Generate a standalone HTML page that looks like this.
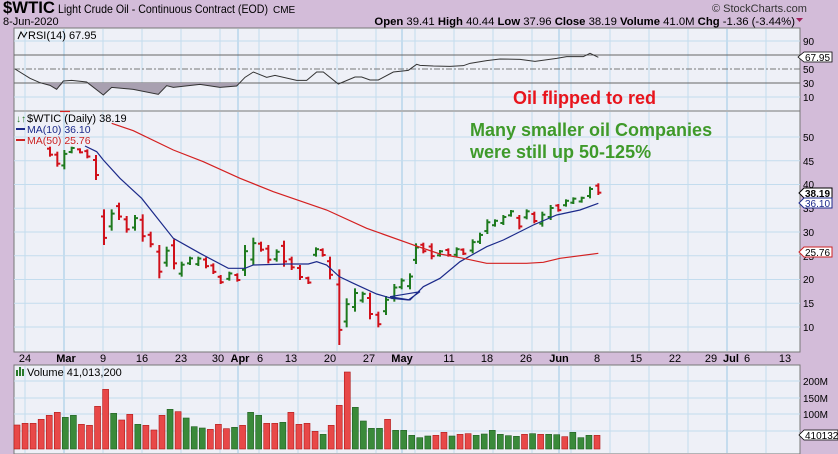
<!DOCTYPE html>
<html><head><meta charset="utf-8"><style>
html,body{margin:0;padding:0;background:#d3bcd9;}
svg{display:block;font-family:"Liberation Sans",sans-serif;}
</style></head><body>
<svg id="s" width="838" height="454" viewBox="0 0 838 454" xmlns="http://www.w3.org/2000/svg">
<rect width="838" height="454" fill="#d3bcd9"/>
<rect x="14" y="28" width="786" height="83" fill="#eef0f7" stroke="#777" stroke-width="1"/>
<rect x="14" y="111" width="786" height="241" fill="#eef0f7" stroke="#777" stroke-width="1"/>
<rect x="14" y="365" width="786" height="89" fill="#eef0f7" stroke="#777" stroke-width="1"/>
<g id="grid"></g>
<g id="rsi"></g>
<g id="price"></g>
<g id="vol"></g>
<text x="3" y="13" font-size="17" font-weight="bold" fill="#000" textLength="52" lengthAdjust="spacingAndGlyphs">$WTIC</text>
<text x="58" y="13" font-size="12" fill="#000" textLength="210" lengthAdjust="spacingAndGlyphs">Light Crude Oil - Continuous Contract (EOD)</text>
<text x="273" y="13" font-size="10" fill="#000">CME</text>
<text x="3" y="25" font-size="11" fill="#000">8-Jun-2020</text>
<text x="712" y="12" font-size="11" fill="#333">© StockCharts.com</text>
<text x="795" y="25" font-size="11.3" text-anchor="end" fill="#000"><tspan font-weight="bold">Open</tspan> 39.41  <tspan font-weight="bold">High</tspan> 40.44  <tspan font-weight="bold">Low</tspan> 37.96  <tspan font-weight="bold">Close</tspan> 38.19  <tspan font-weight="bold">Volume</tspan> 41.0M  <tspan font-weight="bold">Chg</tspan> -1.36 (-3.44%)</text>
<polygon points="796,18 803,18 799.5,22" fill="#a0205a"/>
<text x="28" y="39" font-size="11" fill="#000">RSI(14) 67.95</text>
<polyline points="18,39 21,32 24,37 27,32" fill="none" stroke="#000" stroke-width="1"/>
<g font-size="10" fill="#000">
<text x="803" y="45">90</text><text x="803" y="73">50</text><text x="803" y="87">30</text><text x="803" y="101">10</text>
</g>
<polygon points="798,57 804,52 832,52 832,62 804,62" fill="#fff" stroke="#000" stroke-width="0.8"/>
<text x="805" y="61" font-size="10" fill="#000">67.95</text>
<text x="27" y="122" font-size="11" fill="#000">$WTIC (Daily) 38.19</text>
<text x="16" y="122" font-size="10" fill="#2a7a2a">↓↑</text>
<line x1="16" y1="129" x2="25" y2="129" stroke="#1c2a8a" stroke-width="2"/>
<text x="27" y="133" font-size="10.5" fill="#1c2a8a">MA(10) 36.10</text>
<line x1="16" y1="140" x2="25" y2="140" stroke="#cc2222" stroke-width="2"/>
<text x="27" y="144" font-size="10.5" fill="#cc2222">MA(50) 25.76</text>
<g font-size="10" fill="#000">
<text x="803" y="141">50</text><text x="803" y="165">45</text><text x="803" y="188">40</text><text x="803" y="212">35</text><text x="803" y="236">30</text><text x="803" y="260">25</text><text x="803" y="283">20</text><text x="803" y="307">15</text><text x="803" y="331">10</text>
</g>
<polygon points="799,193 804,188 832,188 832,198 804,198" fill="#fff" stroke="#000" stroke-width="1"/>
<text x="805" y="197" font-size="10" font-weight="bold" fill="#000">38.19</text>
<polygon points="799,203 804,198 832,198 832,208 804,208" fill="#fff" stroke="#1c2a8a" stroke-width="1"/>
<text x="805" y="207" font-size="10" fill="#1c2a8a">36.10</text>
<polygon points="799,252 804,247 832,247 832,257 804,257" fill="#fff" stroke="#cc2222" stroke-width="1"/>
<text x="805" y="256" font-size="10" fill="#000">25.76</text>
<text x="513" y="104" font-size="18" font-weight="bold" fill="#e8141c">Oil flipped to red</text>
<text x="470" y="136" font-size="18" font-weight="bold" fill="#3f9a2a">Many smaller oil Companies</text>
<text x="470" y="158" font-size="18" font-weight="bold" fill="#3f9a2a">were still up 50-125%</text>
<g font-size="11" fill="#000" text-anchor="middle">
<text x="25" y="362">24</text><text x="66" y="362" font-weight="bold">Mar</text><text x="103" y="362">9</text><text x="142" y="362">16</text><text x="181" y="362">23</text><text x="218" y="362">30</text><text x="240" y="362" font-weight="bold">Apr</text><text x="260" y="362">6</text><text x="291" y="362">13</text><text x="330" y="362">20</text><text x="369" y="362">27</text><text x="402" y="362" font-weight="bold">May</text><text x="449" y="362">11</text><text x="487" y="362">18</text><text x="526" y="362">26</text><text x="559" y="362" font-weight="bold">Jun</text><text x="597" y="362">8</text><text x="636" y="362">15</text><text x="675" y="362">22</text><text x="711" y="362">29</text><text x="731" y="362" font-weight="bold">Jul</text><text x="747" y="362">6</text><text x="785" y="362">13</text>
</g>
<text x="27" y="376" font-size="11" fill="#000">Volume 41,013,200</text>
<rect x="16" y="370" width="2" height="6" fill="#2a7a2a"/><rect x="19" y="367" width="2" height="9" fill="#2a7a2a"/><rect x="22" y="369" width="2" height="7" fill="#2a7a2a"/>
<g font-size="10" fill="#000">
<text x="803" y="385">200M</text><text x="803" y="402">150M</text><text x="803" y="418">100M</text>
</g>
<polygon points="799,435 804,430 838,430 838,440 804,440" fill="#fff" stroke="#000" stroke-width="0.8"/>
<text x="805" y="439" font-size="10" fill="#000">410132</text>
</svg>
<script>
var NS="http://www.w3.org/2000/svg";
function el(g,t,a){var e=document.createElementNS(NS,t);for(var k in a)e.setAttribute(k,a[k]);document.getElementById(g).appendChild(e);return e;}
var weeks=[25,64,103,142,181,220,259,298,337,376,415,454,493,532,571,610,649,688,727,766];
weeks.forEach(function(x){[[29,110],[112,351],[366,453]].forEach(function(r){el("grid","line",{x1:x,y1:r[0],x2:x,y2:r[1],stroke:"#c3dcee","stroke-width":1});});});
[64,238,402,559,727].forEach(function(x){[[29,110],[112,351],[366,453]].forEach(function(r){el("grid","line",{x1:x,y1:r[0],x2:x,y2:r[1],stroke:"#9cc8e6","stroke-width":1});});});
for(var p=10;p<=50;p+=5){var y=137+(50-p)*4.75;el("grid","line",{x1:14,y1:y,x2:800,y2:y,stroke:"#c3dcee"});}
[381,398,414,431].forEach(function(y){el("grid","line",{x1:14,y1:y,x2:800,y2:y,stroke:"#c3dcee"});});
[41,97].forEach(function(y){el("grid","line",{x1:14,y1:y,x2:800,y2:y,stroke:"#c3dcee"});});
el("grid","line",{x1:14,y1:55,x2:800,y2:55,stroke:"#666"});
el("grid","line",{x1:14,y1:83,x2:800,y2:83,stroke:"#666"});
el("grid","line",{x1:14,y1:69,x2:800,y2:69,stroke:"#777","stroke-dasharray":"6,2,2,2"});
var r1=[[45,207],[90,235],[120,248],[150,256],[170,268],[190,243],[215,241],[260,246],[310,285],[335,262],[400,268],[475,283],[500,257],[520,262],[600,253],[660,262],[710,258],[735,232],[760,216],[800,232],[825,226],[890,241],[920,241],[950,216],[970,216],[1015,252],[1065,231],[1085,231],[1110,240],[1135,240],[1180,216],[1225,211],[1250,193],[1260,196]];
var r2=[[40,198],[90,199],[130,197],[150,190],[200,182],[240,177],[300,178],[345,184],[410,175],[440,170],[490,170],[510,160],[535,172]];
var pts=r1.map(function(p){return [p[0]/3,p[1]/3];}).concat(r2.map(function(p){return [420+p[0]/3,p[1]/3];}));
var sh=[[14,83]];pts.forEach(function(p){if(p[0]<=240)sh.push([p[0],Math.max(p[1],83)]);});sh.push([240,83]);
el("rsi","polygon",{points:sh.map(function(p){return p.join(",");}).join(" "),fill:"#a8a0b0"});
el("rsi","polyline",{points:pts.map(function(p){return p.join(",");}).join(" "),fill:"none",stroke:"#333","stroke-width":1});
var b4=[[150,110,140,"r"],[172,125,170,"r"],[193,120,178,"g"],[215,110,130,"g"],[240,115,130,"r"],[262,118,145,"r"],[288,135,210,"r"],[312,298,405,"r"],[335,298,362,"g"],[357,278,330,"r"],[380,318,368,"r"],[405,315,362,"g"],[428,313,395,"r"],[452,365,412,"r"],[478,405,505,"r"],[500,410,470,"g"],[522,388,478,"r"],[545,455,500,"g"],[570,440,465,"g"],[595,440,468,"g"],[618,442,475,"r"],[640,460,492,"r"],[662,495,522,"r"],[688,485,512,"g"],[712,490,515,"r"],[735,405,498,"g"],[760,383,465,"g"],[783,395,425,"r"],[805,405,460,"r"],[830,418,455,"g"],[852,392,470,"r"],[875,440,480,"r"],[900,465,510,"r"],[925,500,522,"r"],[948,412,440,"g"],[968,415,440,"r"],[990,440,508,"r"],[1018,478,705,"r"],[1040,565,652,"g"],[1065,535,605,"g"],[1088,545,578,"g"],[1110,548,628,"r"],[1135,605,652,"r"],[1158,558,615,"g"],[1183,522,575,"g"],[1205,505,538,"g"],[1230,490,538,"g"]];
var b5=[[108,400,462,"g"],[130,398,430,"r"],[155,400,448,"r"],[180,420,440,"g"],[205,415,440,"r"],[230,412,440,"g"],[250,415,435,"r"],[278,388,430,"g"],[300,368,402,"g"],[322,328,372,"g"],[345,328,350,"g"],[370,315,345,"g"],[393,300,320,"g"],[418,315,358,"r"],[440,298,328,"g"],[463,305,340,"r"],[487,305,350,"g"],[512,285,330,"g"],[535,282,305,"r"],[558,268,290,"g"],[580,262,282,"g"],[605,260,278,"g"],[630,230,265,"g"],[655,220,255,"r"]];
var bars=b4.map(function(b){return [b[0]/3,b[1]/3+110,b[2]/3+110,b[3]];}).concat(b5.map(function(b){return [380+b[0]/3,b[1]/3+110,b[2]/3+110,b[3]];}));
bars.forEach(function(b){var c=b[3]=="g"?"#1e7a1e":"#d0101a";var x=b[0],t=b[1],bo=b[2];
var o,cl;if(b[3]=="g"){o=bo-(bo-t)*0.2;cl=t+(bo-t)*0.2;}else{o=t+(bo-t)*0.2;cl=bo-(bo-t)*0.2;}
el("price","line",{x1:x,y1:t,x2:x,y2:bo,stroke:c,"stroke-width":2});
el("price","line",{x1:x-3,y1:o,x2:x,y2:o,stroke:c,"stroke-width":2});
el("price","line",{x1:x,y1:cl,x2:x+3,y2:cl,stroke:c,"stroke-width":2});});
var m10a=[[255,108],[290,125],[310,150],[360,205],[425,265],[520,385],[600,430],[685,475],[735,475],[760,465],[860,462],[925,462],[950,455],[980,465],[1018,500],[1060,520],[1130,552],[1175,565],[1225,570],[1260,545]];
var m10b=[[30,560],[90,570],[130,530],[180,505],[240,455],[320,410],[370,390],[400,375],[460,345],[530,315],[600,300],[655,280]];
var m10=m10a.map(function(p){return [p[0]/3,p[1]/3+110];}).concat(m10b.map(function(p){return [380+p[0]/3,p[1]/3+110];}));
el("price","polyline",{points:m10.map(function(p){return p.join(",");}).join(" "),fill:"none",stroke:"#1c2a8a","stroke-width":1.2});
el("price","line",{x1:60,y1:111.5,x2:70,y2:111.5,stroke:"#d42020","stroke-width":1.2});
var ma=[[335,40],[400,62],[520,120],[610,155],[720,205],[820,245],[980,300],[1100,355],[1260,412]];
var mb=[[100,405],[180,432],[250,445],[320,460],[440,460],[490,457],[540,445],[655,430]];
var m50=ma.map(function(p){return [p[0]/3,p[1]/3+110];}).concat(mb.map(function(p){return [380+p[0]/3,p[1]/3+110];}));
el("price","polyline",{points:m50.map(function(p){return p.join(",");}).join(" "),fill:"none",stroke:"#d42020","stroke-width":1.2});
var v="R255,R250,R250,R238,R226,R217,G232,G226,R253,R256,R199,R148,G220,R240,R223,G253,R256,R270,R226,G208,R215,G234,G260,G264,R268,R253,R266,G262,R256,G217,G226,R250,R250,G247,R217,R253,R250,R274,G283,R256,R196,R96,G202,G243,G265,G265,R238,G271,G271,G286,G293,G288,R286,R277,G288,R283,R281,G286,G282,G271,G283,G287,G289,R283,G281,R283,G283,G284,R290,G277,G293,G286,R286".split(",");
var n=v.length, sp=580/(n-1);
v.forEach(function(s,i){var x=17+i*sp;var top=340+parseInt(s.slice(1))/3;var g=s[0]=="G";
el("vol","rect",{x:x-3,y:top,width:6,height:449-top,fill:g?"#3a8a3a":"#e84848",stroke:g?"#1e5e1e":"#b01818","stroke-width":0.6});});
</script>
</body></html>
